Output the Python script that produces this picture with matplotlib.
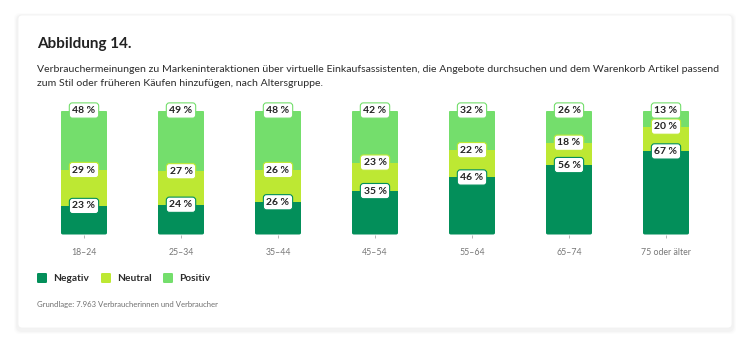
import matplotlib.pyplot as plt
from matplotlib.patches import FancyBboxPatch

plt.rcParams["font.family"] = ["Lato", "DejaVu Sans"]

# Altersgruppen und Anteile (%)
groups   = ["18–24", "25–34", "35–44", "45–54", "55–64", "65–74", "75 oder älter"]
negativ  = [23, 24, 26, 35, 46, 56, 67]
neutral  = [29, 27, 26, 23, 22, 18, 20]
positiv  = [48, 49, 48, 42, 32, 26, 13]

series = [("Negativ", negativ, "#038F5A"),
          ("Neutral", neutral, "#BDE833"),
          ("Positiv", positiv, "#74DE6C")]

W, H = 750, 343
fig = plt.figure(figsize=(W / 100, H / 100), dpi=100, facecolor="white")


def fx(px):
    return px / W


def fy(py):
    return 1 - py / H


# Karte mit sehr leichtem Schatten
bg = fig.add_axes([0, 0, 1, 1])
bg.set_xlim(0, W)
bg.set_ylim(H, 0)
bg.axis("off")
for i, a in enumerate([0.012, 0.015, 0.02]):
    d = 4 - i
    bg.add_patch(FancyBboxPatch((18 - d, 15 - d + 2), 714 + 2 * d, 313 + 2 * d,
                                boxstyle="round,pad=0,rounding_size=6",
                                fc="black", ec="none", alpha=a))
bg.add_patch(FancyBboxPatch((18, 15), 714, 313,
                            boxstyle="round,pad=0,rounding_size=4",
                            fc="white", ec="#f1f1f1", lw=0.6))

fig.text(fx(37), fy(44), "Abbildung 14.", fontsize=11, fontweight="bold",
         color="#222222", va="center")
fig.text(fx(37), fy(70),
         "Verbrauchermeinungen zu Markeninteraktionen über virtuelle Einkaufsassistenten, "
         "die Angebote durchsuchen und dem Warenkorb Artikel passend",
         fontsize=7.55, color="#2c2c2c", va="center")
fig.text(fx(37), fy(84), "zum Stil oder früheren Käufen hinzufügen, nach Altersgruppe.",
         fontsize=7.55, color="#2c2c2c", va="center")

# Diagrammbereich
step = 97
left_px = 84 - step / 2
top_px, bottom_px = 110.5, 234.5
ax = fig.add_axes([fx(left_px), fy(bottom_px), fx(step * 7), fy(top_px) - fy(bottom_px)])
ax.set_xlim(-0.5, 6.5)
ax.set_ylim(0, 100)
ax.patch.set_alpha(0)
for sp in ax.spines.values():
    sp.set_visible(False)
ax.set_yticks([])

x = list(range(len(groups)))
width = 0.48

# abgerundete Umrisse der Säulen als Clip-Pfad
x_per_px = 7 / (step * 7)
y_per_px = 100 / (bottom_px - top_px)
clips = []
for xi in x:
    clip = FancyBboxPatch((xi - width / 2, 0), width, 100,
                          boxstyle=f"round,pad=0,rounding_size={2.2 * x_per_px}",
                          mutation_aspect=y_per_px / x_per_px,
                          fc="none", ec="none", transform=ax.transData)
    ax.add_patch(clip)
    clips.append(clip)

bottoms = [0] * len(groups)
for name, vals, color in series:
    bars = ax.bar(x, vals, width, bottom=bottoms, color=color, edgecolor="none")
    for bar, clip in zip(bars, clips):
        bar.set_clip_path(clip)
    bottoms = [b + v for b, v in zip(bottoms, vals)]

# Wertelabels an der Oberkante jedes Segments
bottoms = [0] * len(groups)
for name, vals, color in series:
    for xi, b, v in zip(x, bottoms, vals):
        ax.text(xi, b + v, f"{v} %", ha="center", va="center", fontsize=7.5,
                fontweight="bold", color="#222222", zorder=5,
                bbox=dict(boxstyle="round,pad=0.3,rounding_size=0.3",
                          fc="white", ec=color, lw=0.8))
    bottoms = [b + v for b, v in zip(bottoms, vals)]

ax.set_xticks(x)
ax.set_xticklabels(groups, fontsize=6.3, color="#777777")
ax.tick_params(axis="x", length=2.5, width=0.6, color="#aaaaaa", pad=7)

# Legende
legend_x = [37, 101, 163]
for lx, (name, vals, color) in zip(legend_x, series):
    bg.add_patch(FancyBboxPatch((lx, 273), 10, 10,
                                boxstyle="round,pad=0,rounding_size=1.2",
                                fc=color, ec="none"))
    bg.text(lx + 16, 278.5, name, fontsize=7.3, fontweight="bold",
            color="#2c2c2c", va="center")

bg.text(37, 305, "Grundlage: 7.963 Verbraucherinnen und Verbraucher",
        fontsize=5.6, color="#6f6f6f", va="center")

fig.savefig("out.png", dpi=100, facecolor="white")
